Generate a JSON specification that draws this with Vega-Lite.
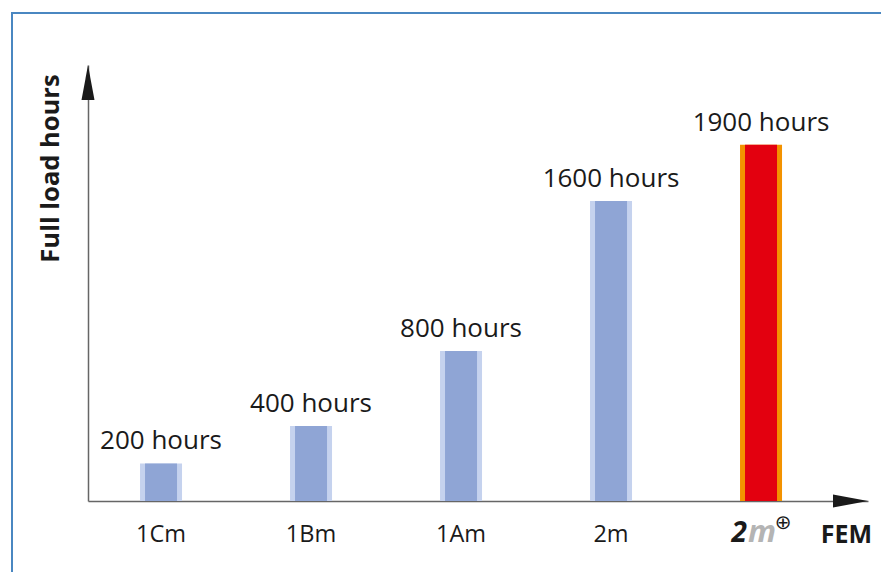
{
  "$schema": "https://vega.github.io/schema/vega-lite/v6.json",
  "width": 874,
  "height": 564,
  "autosize": {"type": "none"},
  "padding": {"left": 12, "top": 13, "right": -5, "bottom": -5},
  "background": "white",
  "config": {"view": {"stroke": "#4a87c1", "strokeWidth": 2}, "font": "Open Sans"},
  "data": {"values": [
    {"class": "1Cm", "hours": 200, "label": "200 hours", "type": "standard"},
    {"class": "1Bm", "hours": 400, "label": "400 hours", "type": "standard"},
    {"class": "1Am", "hours": 800, "label": "800 hours", "type": "standard"},
    {"class": "2m", "hours": 1600, "label": "1600 hours", "type": "standard"},
    {"class": "2m+", "hours": 1900, "label": "1900 hours", "type": "plus"}
  ]},
  "layer": [
    {
      "layer": [
        {
          "mark": {"type": "bar", "width": 42},
          "encoding": {
            "x": {"field": "class", "type": "nominal",
              "scale": {"domain": ["1Cm", "1Bm", "1Am", "2m", "2m+"], "range": [76, 856], "paddingInner": 0.72, "paddingOuter": 0.46, "align": 0.377},
              "axis": {"title": "FEM", "labelExpr": "datum.value === '2m+' ? '' : datum.value", "labelFontSize": 23.5, "labelColor": "#1a1a1a", "labelBaseline": "alphabetic", "labelPadding": 40, "labelAngle": 0, "ticks": false, "tickSize": 0, "grid": false, "domainColor": "#666666", "domainWidth": 1.5, "offset": -76, "titleFontSize": 25, "titleFontWeight": "bold", "titleColor": "#1a1a1a", "titleX": 834, "titleY": 41, "titleAlign": "center", "titleBaseline": "alphabetic", "labelOverlap": false}},
            "y": {"field": "hours", "type": "quantitative",
              "scale": {"domain": [0, 2325], "range": [488, 52], "nice": false, "zero": true},
              "axis": {"title": "Full load hours", "labels": false, "ticks": false, "grid": false, "domainColor": "#666666", "domainWidth": 1.5, "offset": -76, "titleFontSize": 25.5, "titleFontWeight": "bold", "titleColor": "#1a1a1a", "titleX": -38, "titleY": 155, "titleAngle": -90, "titleAlign": "center", "titleBaseline": "middle"}},
            "color": {"condition": {"test": "datum.type === 'plus'", "value": "#f39200"}, "value": "#c5d2ee"}
          }
        },
        {
          "mark": {"type": "bar", "width": 32},
          "encoding": {
            "x": {"field": "class", "type": "nominal"},
            "y": {"field": "hours", "type": "quantitative"},
            "color": {"condition": {"test": "datum.type === 'plus'", "value": "#e3000f"}, "value": "#8fa5d5"}
          }
        },
        {
          "mark": {"type": "text", "fontSize": 26, "dy": -14, "baseline": "alphabetic", "align": "center", "color": "#1a1a1a"},
          "encoding": {
            "x": {"field": "class", "type": "nominal"},
            "y": {"field": "hours", "type": "quantitative"},
            "text": {"field": "label"}
          }
        },
        {
          "transform": [{"filter": "datum.class === '2m+'"}],
          "mark": {"type": "text", "text": "2", "fontSize": 28, "fontWeight": "bold", "fontStyle": "italic", "color": "#1a1a1a", "align": "right", "baseline": "alphabetic", "dx": -14, "dy": 41},
          "encoding": {"x": {"field": "class", "type": "nominal"}, "y": {"datum": 0}}
        },
        {
          "transform": [{"filter": "datum.class === '2m+'"}],
          "mark": {"type": "text", "text": "m", "fontSize": 31, "fontWeight": "bold", "fontStyle": "italic", "color": "#b4b4b4", "align": "left", "baseline": "alphabetic", "dx": -13, "dy": 41},
          "encoding": {"x": {"field": "class", "type": "nominal"}, "y": {"datum": 0}}
        },
        {
          "transform": [{"filter": "datum.class === '2m+'"}],
          "mark": {"type": "text", "text": "⊕", "font": "DejaVu Sans", "fontSize": 20, "color": "#1a1a1a", "align": "center", "baseline": "middle", "dx": 22, "dy": 22},
          "encoding": {"x": {"field": "class", "type": "nominal"}, "y": {"datum": 0}}
        }
      ]
    },
    {
      "data": {"values": [{}]},
      "layer": [
        {
          "mark": {"type": "point", "shape": "M0,0L-0.37,2L0.37,2Z", "size": 1225, "filled": true, "opacity": 1, "color": "#1a1a1a", "strokeWidth": 0},
          "encoding": {
            "x": {"datum": 0, "type": "quantitative", "scale": {"domain": [0, 1], "range": [76, 856], "nice": false, "zero": false}, "axis": null},
            "y": {"datum": 2325, "type": "quantitative"}
          }
        },
        {
          "mark": {"type": "point", "shape": "M0,0L-2,-0.37L-2,0.37Z", "size": 1225, "filled": true, "opacity": 1, "color": "#1a1a1a", "strokeWidth": 0},
          "encoding": {
            "x": {"datum": 1, "type": "quantitative"},
            "y": {"datum": 0, "type": "quantitative"}
          }
        }
      ]
    }
  ],
  "resolve": {"scale": {"x": "independent"}}
}
